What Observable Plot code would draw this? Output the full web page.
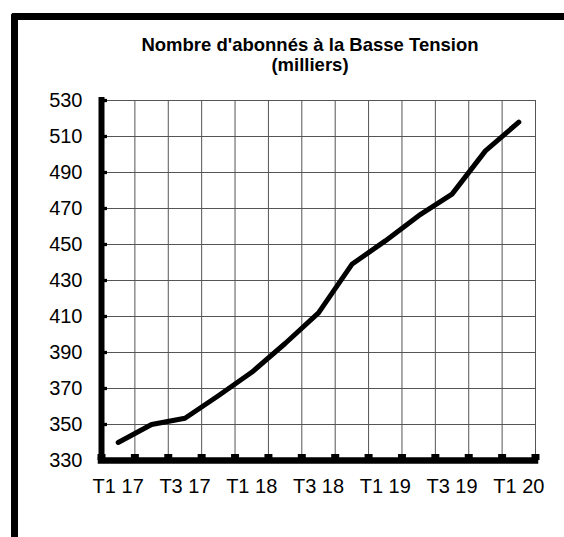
<!DOCTYPE html>
<html><head><meta charset="utf-8">
<script src="https://cdn.jsdelivr.net/npm/d3@7"></script>
<script src="https://cdn.jsdelivr.net/npm/@observablehq/plot@0.6"></script>
<style>
html,body{margin:0;padding:0;background:#fff;}
body{width:564px;height:537px;position:relative;overflow:hidden;font-family:"Liberation Sans",Arial,sans-serif;}
#frame{position:absolute;left:11px;top:13px;right:0;bottom:0;border-top:7px solid #000;border-left:7px solid #000;border-top-left-radius:3px;z-index:2;pointer-events:none;}
#title{position:absolute;left:56px;width:508px;top:35px;text-align:center;font-weight:bold;font-size:18.5px;line-height:19.5px;color:#000;white-space:nowrap;}
#chart{position:absolute;left:0;top:80px;}
</style></head><body>
<div id="title">Nombre d'abonnés à la Basse Tension<br>(milliers)</div>
<div id="chart"></div>
<div id="frame"></div>
<script>
const quarters = ["T1 17","T2 17","T3 17","T4 17","T1 18","T2 18","T3 18","T4 18","T1 19","T2 19","T3 19","T4 19","T1 20"];
const subscribers = [340, 350, 353.5, 366, 379, 395, 412, 439, 452, 466, 478, 502, 518];
const yTicks = [330, 350, 370, 390, 410, 430, 450, 470, 490, 510, 530];
const xTickQuarters = ["T1 17","T3 17","T1 18","T3 18","T1 19","T3 19","T1 20"];

const data = quarters.map((q, i) => ({i, q, v: subscribers[i]}));
const boundaries = quarters.map((q, i) => i - 0.5).concat([quarters.length - 0.5]);
const xTickIdx = xTickQuarters.map(q => quarters.indexOf(q));

const chart = Plot.plot({
  width: 564, height: 457,
  marginLeft: 101, marginRight: 29, marginTop: 20, marginBottom: 77,
  style: {background: "transparent", fontSize: "20px", fontFamily: '"Liberation Sans", Arial, sans-serif', color: "#000", overflow: "visible"},
  x: {type: "linear", domain: [-0.5, quarters.length - 0.5], ticks: xTickIdx, tickFormat: i => quarters[i], tickSize: 0, tickPadding: 18, label: null},
  y: {domain: [330, 530], ticks: yTicks, tickSize: 0, tickPadding: 19, label: null},
  marks: [
    Plot.ruleY(yTicks, {stroke: "#555", strokeWidth: 1}),
    Plot.ruleX(boundaries, {stroke: "#555", strokeWidth: 1}),
    Plot.ruleY(yTicks, {stroke: "#000", strokeWidth: 3.3, insetRight: 428}),
    Plot.ruleX(boundaries, {stroke: "#000", strokeWidth: 8, insetTop: 354}),
    Plot.ruleX([-0.5], {stroke: "#000", strokeWidth: 6, strokeLinecap: "square"}),
    Plot.ruleY([330], {stroke: "#000", strokeWidth: 6.5, strokeLinecap: "square"}),
    Plot.line(data, {x: "i", y: "v", stroke: "#000", strokeWidth: 5, strokeLinecap: "round", strokeLinejoin: "round"})
  ]
});
document.getElementById("chart").appendChild(chart);
</script>
</body></html>
